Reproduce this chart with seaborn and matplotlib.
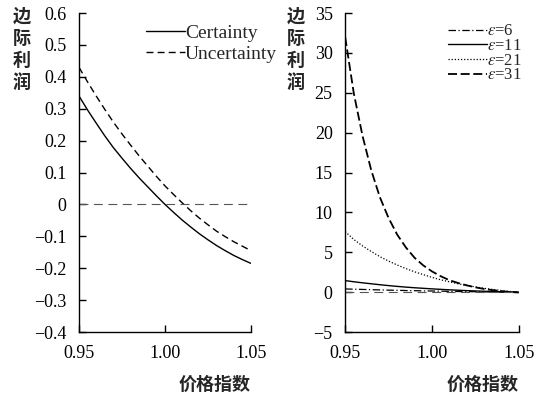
import numpy as np
import pandas as pd
import seaborn as sns
import matplotlib.pyplot as plt
from matplotlib.ticker import FuncFormatter

# 价格指数 (x 轴)
price = [0.95, 0.955, 0.96, 0.965, 0.97, 0.975, 0.98, 0.985, 0.99, 0.995, 1.00,
         1.005, 1.01, 1.015, 1.02, 1.025, 1.03, 1.035, 1.04, 1.045, 1.05]

# 左图: 边际利润 (确定 / 不确定)
certainty = [0.34, 0.296, 0.255, 0.215, 0.178, 0.145, 0.113, 0.083, 0.055, 0.027, 0.0,
             -0.025, -0.049, -0.071, -0.092, -0.111, -0.129, -0.145, -0.16, -0.173, -0.185]
uncertainty = [0.43, 0.384, 0.34, 0.298, 0.258, 0.221, 0.186, 0.152, 0.12, 0.088, 0.058,
               0.031, 0.005, -0.02, -0.043, -0.064, -0.084, -0.101, -0.117, -0.131, -0.145]

# 右图: 不同 ε 下的边际利润
eps6 = [0.4, 0.37, 0.34, 0.31, 0.28, 0.25, 0.23, 0.2, 0.18, 0.16, 0.14,
        0.12, 0.1, 0.08, 0.065, 0.05, 0.035, 0.02, 0.01, 0.0, -0.01]
eps11 = [1.45, 1.3, 1.17, 1.05, 0.93, 0.82, 0.72, 0.63, 0.55, 0.48, 0.41,
         0.35, 0.29, 0.24, 0.19, 0.15, 0.11, 0.07, 0.04, 0.01, -0.02]
eps21 = [7.6, 6.6, 5.8, 5.1, 4.45, 3.9, 3.4, 2.95, 2.55, 2.2, 1.85,
         1.55, 1.3, 1.05, 0.85, 0.65, 0.48, 0.33, 0.2, 0.08, -0.02]
eps31 = [32.0, 24.9, 19.6, 15.3, 11.9, 9.3, 7.2, 5.6, 4.3, 3.35, 2.6,
         2.0, 1.5, 1.15, 0.85, 0.6, 0.4, 0.25, 0.12, 0.02, -0.05]

left_labels = ["Certainty", "Uncertainty"]
right_labels = [r"$\varepsilon$=6", r"$\varepsilon$=11", r"$\varepsilon$=21", r"$\varepsilon$=31"]

sns.set_theme(style="ticks")
plt.rcParams['font.family'] = ['Liberation Serif', 'DejaVu Serif']
plt.rcParams['mathtext.fontset'] = 'stix'
plt.rcParams['axes.linewidth'] = 1.0

fig = plt.figure(figsize=(5.41, 3.96), dpi=100)
ax1 = fig.add_axes([0.146, 0.1616, 0.318, 0.8054])
ax2 = fig.add_axes([0.638, 0.1616, 0.321, 0.8054])

df_left = pd.DataFrame({"price": price * 2,
                        "value": certainty + uncertainty,
                        "series": [left_labels[0]] * len(price) + [left_labels[1]] * len(price)})
sns.lineplot(data=df_left, x="price", y="value", hue="series", style="series",
             palette=["black", "black"], dashes=[(None, None), (5, 3)],
             linewidth=1.0, ax=ax1)
ax1.axhline(0, color="#555555", linewidth=0.8, dashes=(8, 5))

series_r = [eps6, eps11, eps21, eps31]
df_right = pd.DataFrame({"price": price * 4,
                         "value": sum(series_r, []),
                         "series": sum([[lab] * len(price) for lab in right_labels], [])})
sns.lineplot(data=df_right, x="price", y="value", hue="series", style="series",
             palette=["black"] * 4, dashes=[(6, 2, 1, 2), (None, None), (1, 1.5), (5, 2)],
             size="series", sizes=[0.9, 1.0, 0.9, 1.3], ax=ax2)
ax2.axhline(0, color="#555555", linewidth=0.8, dashes=(8, 5))

for ax in (ax1, ax2):
    sns.despine(ax=ax)
    ax.set_xlim(0.95, 1.05)
    ax.set_xticks([0.95, 1.00, 1.05])
    ax.xaxis.set_major_formatter(FuncFormatter(lambda v, p: f"{v:.2f}"))
    ax.tick_params(direction="in", length=5, width=1.0, labelsize=13, pad=9, colors="black")
    ax.set_xlabel("")
    ax.set_ylabel("")
    for s in ax.spines.values():
        s.set_color("black")

def fmt_y(v, p):
    if abs(v) < 1e-9:
        return "0"
    s = f"{v:g}"
    return s.replace("-", "\u2212")

ax1.set_ylim(-0.4, 0.6)
ax1.set_yticks(np.arange(-0.4, 0.61, 0.1))
ax1.yaxis.set_major_formatter(FuncFormatter(lambda v, p: fmt_y(round(v, 1), p)))
ax2.set_ylim(-5, 35)
ax2.set_yticks(range(-5, 36, 5))
ax2.yaxis.set_major_formatter(FuncFormatter(fmt_y))

h, l = ax1.get_legend_handles_labels()
ax1.legend(h, l, loc="upper right", bbox_to_anchor=(0.530, 0.963), bbox_transform=fig.transFigure,
           frameon=False, fontsize=14, handlelength=2.0, handletextpad=0.0, labelspacing=0.15,
           borderpad=0)
h, l = ax2.get_legend_handles_labels()
ax2.legend(h, l, loc="upper right", bbox_to_anchor=(0.979, 0.962), bbox_transform=fig.transFigure,
           frameon=False, fontsize=12, handlelength=2.3, handletextpad=0.0, labelspacing=-0.08,
           borderpad=0)

cjk = ['Noto Sans CJK SC', 'DejaVu Sans']
fig.text(22 / 541, 1 - 7 / 396, "边\n际\n利\n润", family=cjk, fontsize=13, fontweight="bold",
         ha="center", va="top", linespacing=1.2)
fig.text(296 / 541, 1 - 7 / 396, "边\n际\n利\n润", family=cjk, fontsize=13, fontweight="bold",
         ha="center", va="top", linespacing=1.2)
fig.text(251 / 541, 1 - 384 / 396, "价格指数", family=cjk, fontsize=13, fontweight="bold",
         ha="right", va="center")
fig.text(519 / 541, 1 - 384 / 396, "价格指数", family=cjk, fontsize=13, fontweight="bold",
         ha="right", va="center")

fig.savefig("out.png", dpi=100)
